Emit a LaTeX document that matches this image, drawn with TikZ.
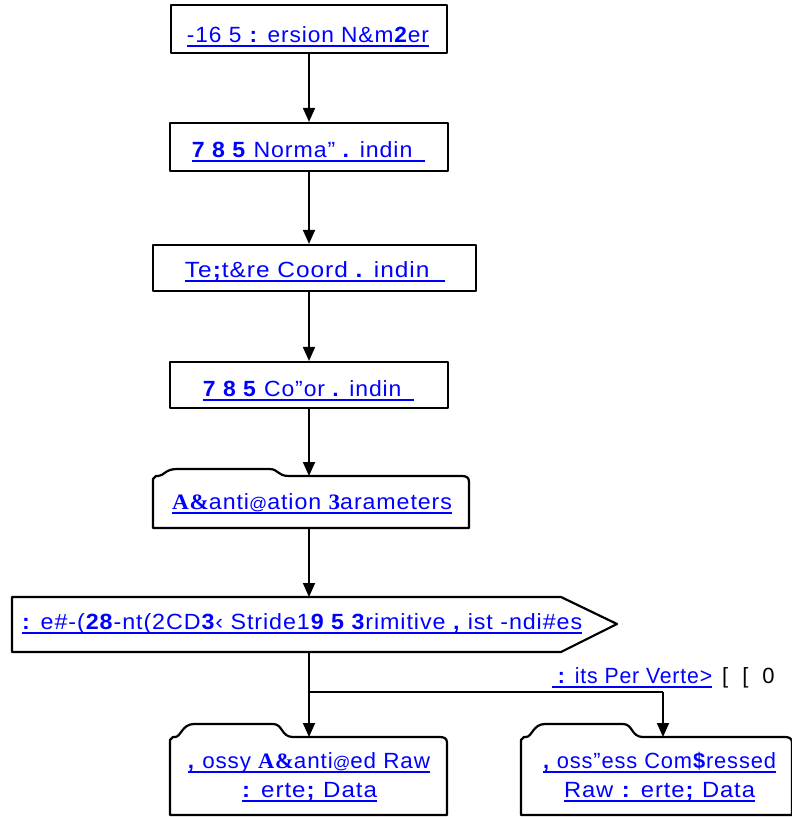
\documentclass[tikz,border=0pt]{standalone}
\usepackage{fontspec}
\usepackage{graphicx}
\setmainfont{Liberation Sans}[LetterSpace=4]
\newfontfamily\gserif{Liberation Serif}[LetterSpace=4]
\usetikzlibrary{arrows.meta}
\definecolor{linkblue}{RGB}{0,0,255}
\hbadness=10000

% blue hyperlink-style text fitted to a given width, with a thick underline
\newcommand\ulink[2]{\leavevmode\setbox0\hbox{\resizebox{#1}{\height}{#2}}\rlap{\vrule width\wd0 height -2.5pt depth 5pt}\box0}
\newcommand\bserif[1]{{\gserif\bfseries #1}}
\newcommand\smallat{{\fontsize{17}{20}\selectfont @}}

% folder-shaped outline: #1 left, #2 right, #3 tab top, #4 body top, #5 bottom, #6 tab end
\newcommand\folder[6]{%
  \draw[outline] (#1,#5) -- (#1,#4+3) -- (#1+3,#4) -- (#1+5,#4)
    .. controls (#1+11,#4) and (#1+12,#3) .. (#1+24,#3)
    -- (#6-14,#3)
    .. controls (#6-4,#3) and (#6-6,#4) .. (#6+6,#4)
    -- (#2-7,#4) .. controls (#2-2,#4) and (#2,#4+2) .. (#2,#4+6)
    -- (#2,#5) -- cycle;}

\tikzset{
  outline/.style={draw=black, line width=2.2pt, line join=round},
  stepbox/.style={outline, rectangle, inner sep=0pt},
  label/.style={text=linkblue, font=\fontsize{22}{26}\selectfont, inner sep=0pt, anchor=base},
  conn/.style={line width=1.8pt, -{Triangle[length=14pt,width=12pt]}},
  wire/.style={line width=1.8pt},
}

\begin{document}
\begin{tikzpicture}[x=1pt,y=-1pt]
\useasboundingbox (0,0) rectangle (792,817);

% header chain of plain boxes
\node[stepbox, minimum width=276pt, minimum height=48pt] (b1) at (309,29) {};
\node[label] (t1) at (308,42) {\ulink{242pt}{-16 5 \textbf{:} ersion N\&m\textbf{2}er}};

\node[stepbox, minimum width=278pt, minimum height=48pt] (b2) at (309,147) {};
\node[label] (t2) at (308.5,157) {\ulink{233pt}{\textbf{7 8 5} Norma" \textbf{.} indin\hspace{12pt}}};

\node[stepbox, minimum width=323pt, minimum height=46pt] (b3) at (314.5,268) {};
\node[label] (t3) at (315,277) {\ulink{260pt}{Te\textbf{;}t\&re Coord \textbf{.} indin\hspace{14pt}}};

\node[stepbox, minimum width=278pt, minimum height=46pt] (b4) at (309,385) {};
\node[label] (t4) at (308.5,396) {\ulink{211pt}{\textbf{7 8 5} Co"or \textbf{.} indin\hspace{12pt}}};

% quantization parameters folder
\folder{153}{469}{469}{476}{528}{283}
\coordinate (f5top) at (309,476);
\coordinate (f5bot) at (309,528);
\node[label] (t5) at (312,509) {\ulink{280pt}{\bserif{A\&}anti\smallat ation \bserif{3}arameters}};

% pentagon arrow for the mesh header fields
\draw[outline] (12,597) -- (561,597) -- (617,624) -- (561,652) -- (12,652) -- cycle;
\coordinate (ptop) at (309,597);
\coordinate (pbot) at (309,652);
\node[label, anchor=base west] (t6) at (22,629) {\ulink{560pt}{\textbf{:} e\#-(\textbf{28}-nt(2CD\textbf{3}‹ Stride1\textbf{9 5 3}rimitive \textbf{,} ist -ndi\#es}};

% output folders
\folder{170}{447}{724}{737}{815}{287}
\coordinate (lytop) at (309,737);
\node[label] (t7a) at (309,768) {\ulink{242pt}{\textbf{,} ossy \bserif{A\&}anti\smallat ed Raw}};
\node[label] (t7b) at (309.5,797) {\ulink{135pt}{\textbf{:} erte\textbf{;} Data}};

\folder{521}{792}{724}{737}{815}{637}
\coordinate (lltop) at (663,737);
\node[label] (t8a) at (659.5,768) {\ulink{233pt}{\textbf{,} oss"ess Com\textbf{\$}ressed}};
\node[label] (t8b) at (659.5,797) {\ulink{191pt}{Raw \textbf{:} erte\textbf{;} Data}};

% branch label
\node[label, anchor=base west] (t9) at (552,683) {\ulink{160pt}{\kern6pt\textbf{:} its Per Verte\textgreater}};
\node[label, anchor=base west, text=black] (t9b) at (722,683) {[\hspace{14pt}[\hspace{14pt}0};

% connectors
\coordinate (spine) at (309,0);
\draw[conn] (b1.south) -- (b2.north);
\draw[conn] (b2.south) -- (b2.south |- b3.north);
\draw[conn] (b3.south -| spine) -- (b4.north);
\draw[conn] (b4.south) -- (f5top);
\draw[conn] (f5bot) -- (ptop);
\draw[conn] (pbot) -- (lytop);
\coordinate (split) at (309,692);
\draw[wire] (split) -- (split -| lltop);
\draw[conn] (split -| lltop) -- (lltop);
\end{tikzpicture}
\end{document}
